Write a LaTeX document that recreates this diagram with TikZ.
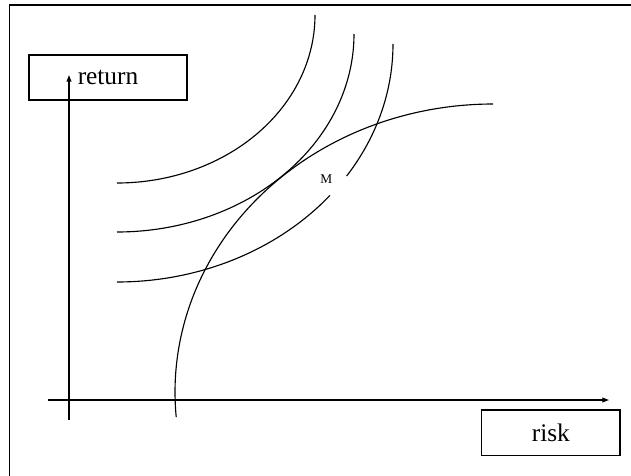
\documentclass[tikz,border=0pt]{standalone}
\usepackage{fontspec}
\setmainfont{Liberation Serif}
\usetikzlibrary{arrows.meta}
\begin{document}
\begin{tikzpicture}[x=0.75pt,y=-0.75pt,
  curve/.style={line width=0.85pt},
  labelbox/.style={draw, line width=0.9pt, inner sep=0pt, font=\fontsize{19}{22}\selectfont},
  axis/.style={line width=0.9pt, -{Triangle[length=5pt,width=3.6pt]}}]
\useasboundingbox (0,0) rectangle (631,475);
\clip (0,0) rectangle (631,475);
% outer frame (extends past the right and bottom edges)
\draw[line width=1.2pt] (9.5,5) rectangle (660,500);
% label boxes
\node[labelbox, minimum width=118.5pt, minimum height=33.75pt] (ret) at (108,77.5) {return};
\node[labelbox, minimum width=103.7pt, minimum height=34.3pt] (risk) at (550.9,432.9) {risk};
% axes
\coordinate (ybot) at (69,420);
\coordinate (ytop) at (69,75);
\coordinate (xleft) at (48,400);
\coordinate (xright) at (609,400);
\draw[axis] (ybot) -- (ytop);
\draw[axis] (xleft) -- (xright);
% indifference curves
\draw[curve] plot[domain=90:0, samples=90] ({117+198*cos(\x)},{15+168*sin(\x)});
\draw[curve] plot[domain=90:0, samples=90] ({117+237*cos(\x)},{34+198*sin(\x)});
\draw[curve] plot[domain=90:39.5, samples=60] ({117+276*cos(\x)},{44+238*sin(\x)});
\draw[curve] plot[domain=33.7:0, samples=40] ({117+276*cos(\x)},{44+238*sin(\x)});
% efficient frontier
\draw[curve] plot[domain=175:270, samples=100] ({493+318*cos(\x)},{392+288*sin(\x)});
% M label
\node[inner sep=0pt, font=\fontsize{10}{12}\selectfont] (M) at (326.3,179) {M};
\end{tikzpicture}
\end{document}
